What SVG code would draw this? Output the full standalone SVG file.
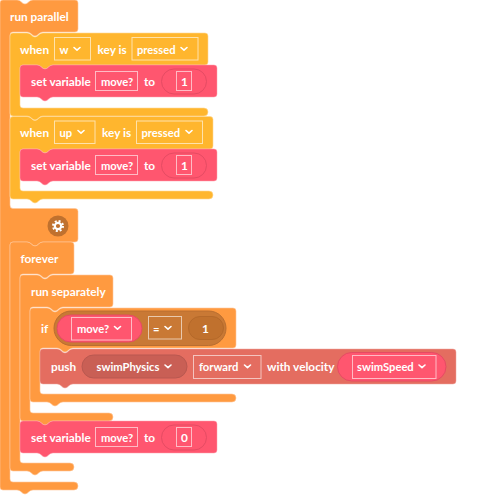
<svg xmlns="http://www.w3.org/2000/svg" width="496" height="500" viewBox="0 0 496 500">
<style>
text{font-family:"Lato","Open Sans",sans-serif;font-size:11.8px;font-weight:700;fill:#fff}
text.d{font-size:11.2px}
.o{fill:#ff9a40;stroke:#ffc79a;stroke-width:.6}
.y{fill:#ffb62e;stroke:#ffd995;stroke-width:.6}
.p{fill:#ff566f;stroke:#ffa0ae;stroke-width:.5}
.r{fill:#e46d60;stroke:#efa79f;stroke-width:.5}
.f{fill:none;stroke:#fff;stroke-opacity:.6;stroke-width:1}
.pill{fill:#ff566f;stroke:#e54b63;stroke-width:1}
.c{fill:none;stroke:#fff;stroke-width:1.600;stroke-linecap:round;stroke-linejoin:round}
</style>
<defs>
<path id="chev" class="c" d="M-3-1.500 0 1.200 3-1.500"/>
<g id="setv">
<path class="p" d="M3 0H17C21 0 22 4 25 4S29 0 33 0H194Q197 0 197 3V29Q197 32 194 32H33C29 32 28 36 25 36S21 32 17 32H3Q0 32 0 29V3Q0 0 3 0Z"/>
<text x="11" y="21">set variable</text>
<rect class="f" x="75.500" y="6.500" width="42" height="19"/>
<text class="d" x="81" y="21">move?</text>
<text x="124" y="21">to</text>
<rect x="141.500" y="4" width="45" height="25" rx="12.500" fill="#ff566f" stroke="#e54b63"/>
<rect class="f" x="156.500" y="6.500" width="15" height="19"/>
</g>
</defs>
<g id="connectors"></g>

<g id="run-parallel">
<path class="o" d="M3 0H17C21 0 22 4 25 4S29 0 33 0H75Q78 0 78 3V29Q78 32 75 32H43C39 32 38 36 35 36S31 32 27 32H13Q10 32 10 35V205Q10 208.500 13 208.500H75Q78 208.500 78 211.500V239Q78 242 75 242H43C39 242 38 246 35 246S31 242 27 242H13Q10 242 10 245V479Q10 482 13 482H74Q78 482 78 486T74 490H33C29 490 28 494 25 494S21 490 17 490H3Q0 490 0 487V3Q0 0 3 0Z"/>
<text x="10" y="20.500">run parallel</text>
<circle cx="58" cy="226" r="10.500" fill="#c0712e"/>
<circle cx="58" cy="226" r="3.200" fill="none" stroke="#fff" stroke-width="2.200"/>
<circle cx="58" cy="226" r="5" fill="none" stroke="#fff" stroke-width="2" stroke-dasharray="2 1.930"/>
</g>

<g id="when-w">
<path class="y" d="M13 33H27C31 33 32 37 35 37S39 33 43 33H205Q208 33 208 36V62Q208 65 205 65H53C49 65 48 69 45 69S41 65 37 65H23Q20 65 20 68V105Q20 108 23 108H204Q208 108 208 112T204 116H43C39 116 38 120 35 120S31 116 27 116H13Q10 116 10 113V36Q10 33 13 33Z"/>
<text x="20" y="53.500">when</text>
<rect class="f" x="54.500" y="37.500" width="36" height="22.500"/>
<text class="d" x="59.500" y="53.500">w</text>
<use href="#chev" x="77" y="49"/>
<text x="97.500" y="53.500">key is</text>
<rect class="f" x="132" y="37.500" width="66" height="22.500"/>
<text class="d" x="137" y="53.500">pressed</text>
<use href="#chev" x="184" y="49"/>
</g>
<g id="set-move-1a" transform="translate(20 65)"><use href="#setv"/><text x="161" y="21">1</text></g>

<g id="when-up">
<path class="y" d="M13 116.500H27C31 116.500 32 120.500 35 120.500S39 116.500 43 116.500H210Q213 116.500 213 119.500V146Q213 149 210 149H53C49 149 48 153 45 153S41 149 37 149H23Q20 149 20 152V188Q20 191 23 191H209Q213 191 213 195T209 199H43C39 199 38 203 35 203S31 199 27 199H13Q10 199 10 196V119.500Q10 116.500 13 116.500Z"/>
<text x="20" y="137">when</text>
<rect class="f" x="54.500" y="121" width="40.500" height="22.500"/>
<text class="d" x="59.500" y="137">up</text>
<use href="#chev" x="81" y="132"/>
<text x="102" y="137">key is</text>
<rect class="f" x="136.500" y="121" width="66" height="22.500"/>
<text class="d" x="141.500" y="137">pressed</text>
<use href="#chev" x="189" y="132"/>
</g>
<g id="set-move-1b" transform="translate(20 149)"><use href="#setv"/><text x="161" y="21">1</text></g>

<g id="forever">
<path class="o" d="M13 242H27C31 242 32 246 35 246S39 242 43 242H71Q74 242 74 245V271Q74 274 71 274H53C49 274 48 278 45 278S41 274 37 274H23Q20 274 20 277V460Q20 463 23 463H70Q74 463 74 467T70 471H43C39 471 38 475 35 475S31 471 27 471H13Q10 471 10 468V245Q10 242 13 242Z"/>
<text x="20.500" y="262.500">forever</text>
</g>

<g id="run-separately">
<path class="o" d="M23 275H37C41 275 42 279 45 279S49 275 53 275H110Q113 275 113 278V304Q113 307 110 307H63C59 307 58 311 55 311S51 307 47 307H33Q30 307 30 310V410Q30 413 33 413H109Q113 413 113 417T109 421H53C49 421 48 425 45 425S41 421 37 421H23Q20 421 20 418V278Q20 275 23 275Z"/>
<text x="31" y="296">run separately</text>
</g>

<g id="if">
<path class="o" d="M33 308H47C51 308 52 312 55 312S59 308 63 308H233Q236 308 236 311V345Q236 348 233 348H73C69 348 68 352 65 352S61 348 57 348H43Q40 348 40 351V391Q40 394 43 394H232Q236 394 236 398T232 402H63C59 402 58 406 55 406S51 402 47 402H33Q30 402 30 399V311Q30 308 33 308Z"/>
<text x="41" y="332.500">if</text>
<rect x="54" y="311" width="172" height="34.500" rx="17.250" fill="#c97935" stroke="#b96e30"/>
<rect x="57" y="315" width="85" height="27" rx="13.500" class="pill"/>
<rect class="f" x="71.500" y="317.500" width="60" height="22.500"/>
<text class="d" x="77" y="332.500">move?</text>
<use href="#chev" x="117.500" y="328"/>
<rect x="148.500" y="316.500" width="33" height="22.500" fill="#c97935" stroke="#fff" stroke-opacity=".6"/>
<text class="d" x="153" y="332.500">=</text>
<use href="#chev" x="168" y="328"/>
<rect x="188.500" y="316.500" width="35" height="23" rx="11.500" fill="#c0712e" stroke="#b5692a"/>
<text x="202" y="332.500">1</text>
</g>

<g id="push">
<path class="r" d="M43 349H57C61 349 62 353 65 353S69 349 73 349H453Q456 349 456 352V381Q456 384 453 384H73C69 384 68 388 65 388S61 384 57 384H43Q40 384 40 381V352Q40 349 43 349Z"/>
<text x="51" y="371">push</text>
<rect x="82" y="355" width="105" height="23" rx="11.500" fill="#c95f55" stroke="#b95850"/>
<text class="d" x="96.500" y="371">swimPhysics</text>
<use href="#chev" x="168" y="366.500"/>
<rect class="f" x="193.500" y="355.500" width="67.500" height="23"/>
<text class="d" x="199" y="371">forward</text>
<use href="#chev" x="247.500" y="366.500"/>
<text x="267" y="371">with velocity</text>
<rect x="337.500" y="352.500" width="108.500" height="28.500" rx="14.250" class="pill"/>
<rect class="f" x="352.500" y="355.500" width="83.500" height="23"/>
<text class="d" x="357" y="371">swimSpeed</text>
<use href="#chev" x="422" y="366.500"/>
</g>

<g id="set-move-0" transform="translate(20 421)"><use href="#setv"/><text x="161" y="21">0</text></g>
</svg>
